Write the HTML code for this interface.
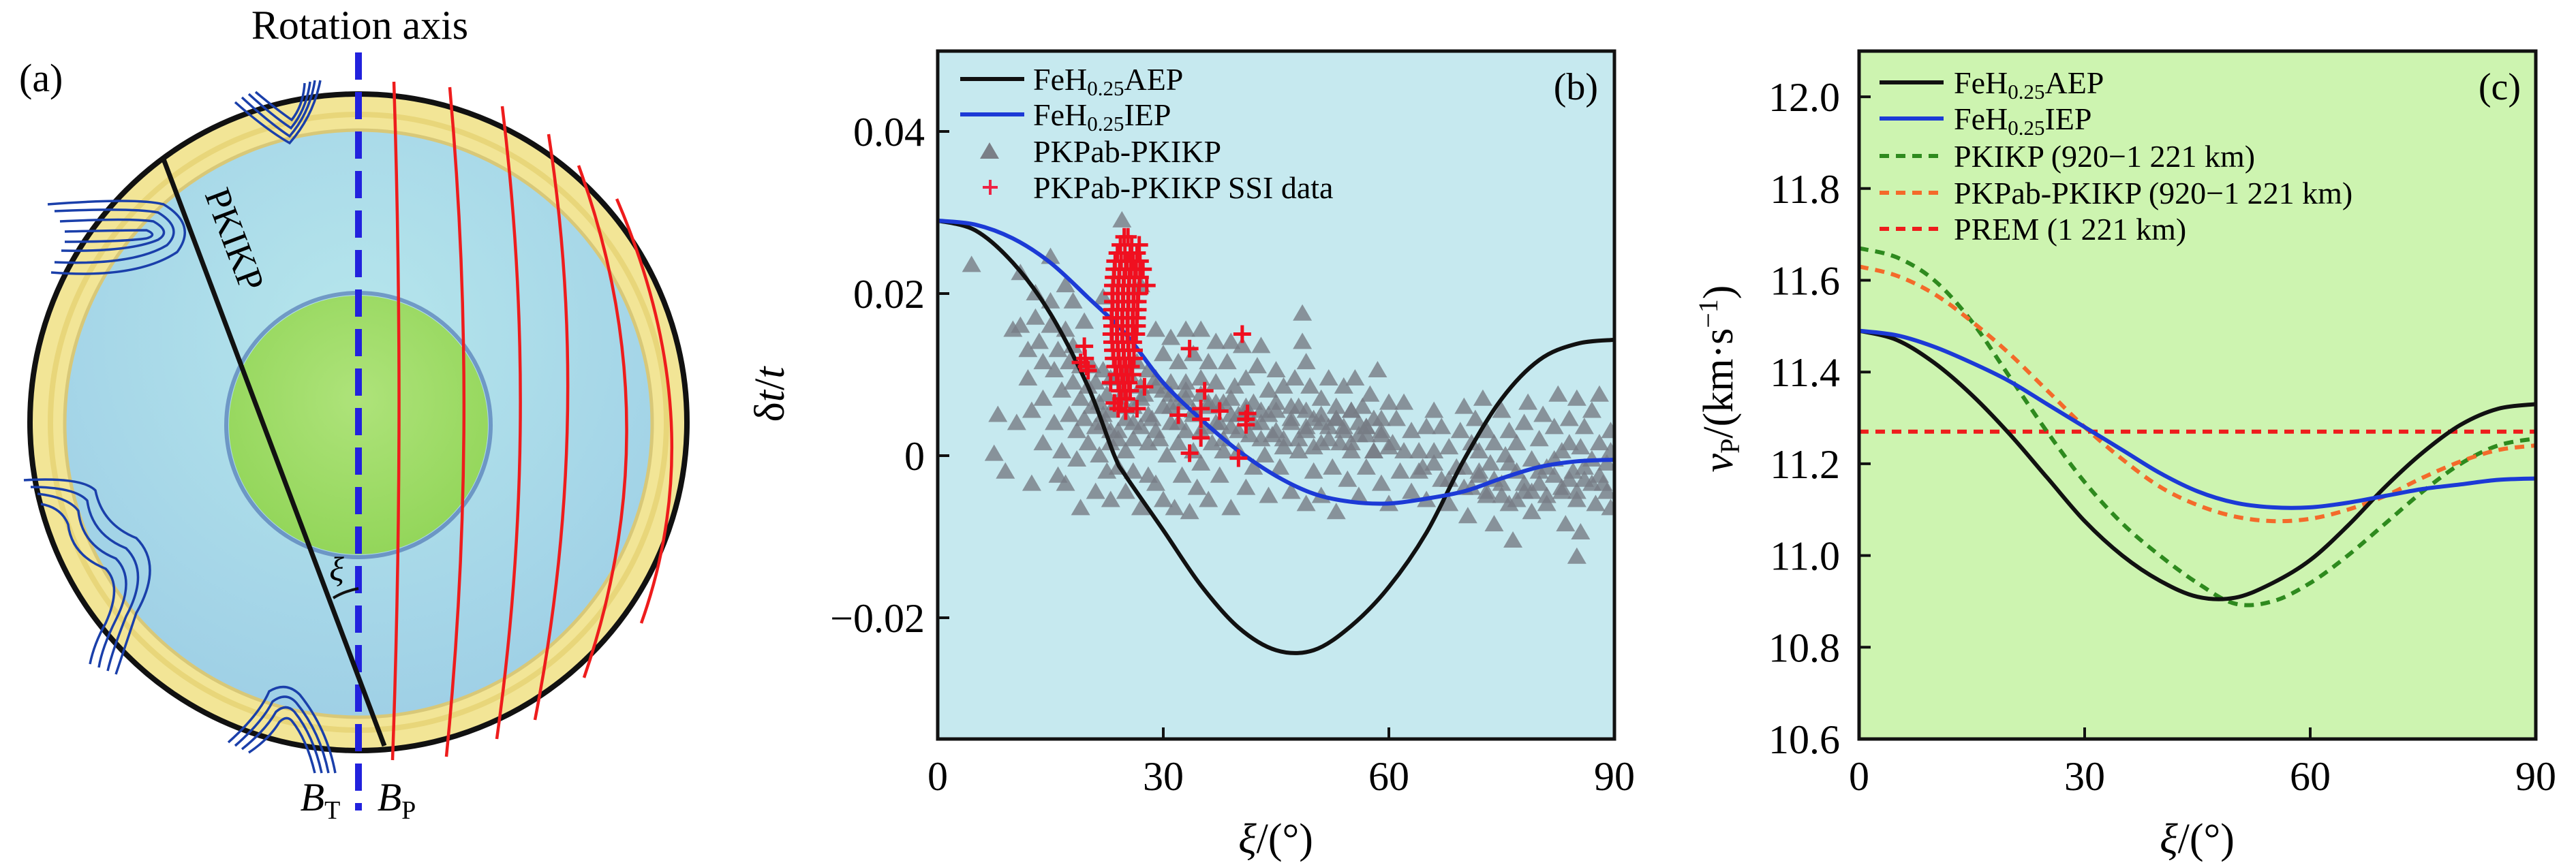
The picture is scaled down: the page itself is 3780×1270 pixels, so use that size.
<!DOCTYPE html>
<html><head><meta charset="utf-8"><style>
html,body{margin:0;padding:0;background:#fff;}
svg{display:block;}
svg text{font-family:"Liberation Serif","DejaVu Serif",serif;}
</style></head><body>
<svg id="fig" width="3780" height="1270" viewBox="0 0 3780 1270" xmlns="http://www.w3.org/2000/svg" font-family="Liberation Serif, DejaVu Serif, serif">
<defs>
<radialGradient id="blueg" cx="50%" cy="35%" r="65%"><stop offset="0" stop-color="#b6e6ec"/><stop offset="1" stop-color="#9fd0e6"/></radialGradient>
<radialGradient id="greeng" cx="50%" cy="40%" r="60%"><stop offset="0" stop-color="#aee37a"/><stop offset="1" stop-color="#93d65a"/></radialGradient>
<clipPath id="clipb"><rect x="1376" y="75" width="993" height="1010"/></clipPath>
<clipPath id="clipc"><rect x="2728" y="75" width="993" height="1010"/></clipPath>
</defs>

<!-- Panel a -->
<g>
<text x="528" y="57" font-size="60" text-anchor="middle">Rotation axis</text>
<text x="28" y="134" font-size="58">(a)</text>
<circle cx="526" cy="620" r="482" fill="#f2e596" stroke="#111" stroke-width="8"/>
<circle cx="526" cy="620" r="452" fill="none" stroke="#e8d67a" stroke-width="8"/>
<circle cx="526" cy="622" r="431" fill="url(#blueg)" stroke="#d8c878" stroke-width="5"/>
<circle cx="526" cy="624" r="194" fill="none" stroke="#3b5fa8" stroke-width="6" opacity="0.55"/>
<circle cx="526" cy="624" r="190" fill="url(#greeng)"/>
<g fill="none" stroke="#ee1c1c" stroke-width="4.5">
<path d="M578 120 Q594 620 576 1116"/>
<path d="M660 128 Q704 620 655 1111"/>
<path d="M737 156 Q794 620 729 1085"/>
<path d="M805 197 Q870 620 785 1057"/>
<path d="M849 243 Q986 620 857 995"/>
<path d="M905 292 Q1046 620 941 915"/>
</g>
<g fill="none" stroke="#1a3faa" stroke-width="3.5">
<path d="M345 150 Q390 190 425 210 Q460 170 470 118"/>
<path d="M355 143 Q395 180 425 200 Q455 165 462 118"/>
<path d="M365 138 Q400 170 427 188 Q450 160 455 120"/>
<path d="M375 135 Q405 160 428 176 Q445 155 447 122"/>
<path d="M70 300 Q200 290 240 300 Q290 330 260 370 Q200 410 75 400"/>
<path d="M80 310 Q195 305 232 312 Q270 335 245 360 Q195 390 80 385"/>
<path d="M88 325 Q190 320 225 325 Q252 340 232 352 Q190 370 90 368"/>
<path d="M95 340 Q180 338 215 338 Q232 345 215 350 Q180 355 95 355"/>
<path d="M35 705 Q120 700 140 720 Q150 770 200 790 Q240 830 200 900 Q180 960 170 990"/>
<path d="M45 715 Q110 715 128 735 Q135 785 185 805 Q220 840 185 905 Q165 955 158 985"/>
<path d="M55 725 Q100 730 115 750 Q120 800 170 820 Q200 850 170 910 Q150 950 145 980"/>
<path d="M60 740 Q90 745 100 770 Q105 815 155 835 Q180 860 155 915 Q138 945 132 975"/>
<path d="M335 1090 Q380 1050 395 1015 Q420 1000 440 1020 Q480 1070 492 1135"/>
<path d="M345 1095 Q385 1060 400 1030 Q420 1015 435 1032 Q470 1075 482 1135"/>
<path d="M355 1100 Q390 1072 405 1045 Q420 1032 432 1045 Q460 1080 472 1135"/>
<path d="M365 1105 Q395 1085 410 1060 Q420 1050 428 1058 Q450 1085 462 1135"/>
</g>
<line x1="526" y1="77" x2="526" y2="1190" stroke="#2222dd" stroke-width="10" stroke-dasharray="40 18"/>
<line x1="239" y1="231" x2="564" y2="1095" stroke="#111" stroke-width="7"/>
<text x="0" y="0" font-size="54" transform="translate(300,285) rotate(69.4)">PKIKP</text>
<path d="M489 878 Q505 868 526 864" fill="none" stroke="#111" stroke-width="4"/>
<text x="494" y="852" font-size="50" font-style="italic" text-anchor="middle">ξ</text>
<text x="470" y="1190" font-size="58" font-style="italic" text-anchor="middle">B<tspan font-size="38" font-style="normal" dy="12">T</tspan></text>
<text x="582" y="1190" font-size="58" font-style="italic" text-anchor="middle">B<tspan font-size="38" font-style="normal" dy="12">P</tspan></text>
</g>

<!-- Panel b -->
<rect x="1376" y="75" width="993" height="1010" fill="#c6e9ef"/>
<g id="bmarks" clip-path="url(#clipb)"></g>
<g id="baxes"></g>
<rect x="1376" y="75" width="993" height="1010" fill="none" stroke="#111" stroke-width="5"/>
<g font-size="46">
<line x1="1409" y1="116" x2="1503" y2="116" stroke="#111" stroke-width="6"/>
<text x="1516" y="132">FeH<tspan font-size="31" dy="8">0.25</tspan><tspan dy="-8">AEP</tspan></text>
<line x1="1409" y1="168" x2="1503" y2="168" stroke="#1c3ad6" stroke-width="6"/>
<text x="1516" y="184">FeH<tspan font-size="31" dy="8">0.25</tspan><tspan dy="-8">IEP</tspan></text>
<polygon points="1452,209 1438,233 1466,233" fill="#7a7f87"/>
<text x="1516" y="238">PKPab-PKIKP</text>
<path d="M1442 275 H1464 M1453 264 V286" stroke="#ee2244" stroke-width="4"/>
<text x="1516" y="291">PKPab-PKIKP SSI data</text>
</g>
<text x="2345" y="146" font-size="56" text-anchor="end">(b)</text>
<text font-size="62" text-anchor="middle" transform="translate(1150,579) rotate(-90)">δ<tspan font-style="italic">t</tspan>/<tspan font-style="italic">t</tspan></text>
<text x="1872" y="1252" font-size="62" text-anchor="middle"><tspan font-style="italic">ξ</tspan>/(°)</text>

<!-- Panel c -->
<rect x="2728" y="75" width="993" height="1010" fill="#cdf4b0"/>
<g id="cmarks" clip-path="url(#clipc)"></g>
<g id="caxes"></g>
<rect x="2728" y="75" width="993" height="1010" fill="none" stroke="#111" stroke-width="5"/>
<g font-size="46">
<line x1="2758" y1="121" x2="2852" y2="121" stroke="#111" stroke-width="6"/>
<text x="2867" y="137">FeH<tspan font-size="31" dy="8">0.25</tspan><tspan dy="-8">AEP</tspan></text>
<line x1="2758" y1="174" x2="2852" y2="174" stroke="#1c3ad6" stroke-width="6"/>
<text x="2867" y="190">FeH<tspan font-size="31" dy="8">0.25</tspan><tspan dy="-8">IEP</tspan></text>
<line x1="2758" y1="229" x2="2852" y2="229" stroke="#2e8a1e" stroke-width="6" stroke-dasharray="14 10"/>
<text x="2867" y="245">PKIKP (920−1 221 km)</text>
<line x1="2758" y1="283" x2="2852" y2="283" stroke="#f46a2a" stroke-width="6" stroke-dasharray="14 10"/>
<text x="2867" y="299">PKPab-PKIKP (920−1 221 km)</text>
<line x1="2758" y1="336" x2="2852" y2="336" stroke="#ee1c1c" stroke-width="6" stroke-dasharray="14 10"/>
<text x="2867" y="352">PREM (1 221 km)</text>
</g>
<text x="3699" y="146" font-size="56" text-anchor="end">(c)</text>
<text font-size="62" text-anchor="middle" transform="translate(2542,556) rotate(-90)"><tspan font-style="italic">v</tspan><tspan font-size="40" dy="10">P</tspan><tspan dy="-10">/(km·s</tspan><tspan font-size="40" dy="-22">−1</tspan><tspan dy="22">)</tspan></text>
<text x="3224" y="1252" font-size="62" text-anchor="middle"><tspan font-style="italic">ξ</tspan>/(°)</text>
</svg>
<script>
// ---- Panel b data ----
const bXTicks = [0, 30, 60, 90];
const bYTicks = [-0.02, 0, 0.02, 0.04];
const bYTickLabels = ["−0.02", "0", "0.02", "0.04"];
const bCurveX = [0,5,10,15,20,23.5,25,30,35,40,45,50,55,60,65,70,75,80,85,90];
const bAEP = [0.029,0.0278,0.0238,0.0175,0.0085,0.0,-0.0025,-0.0092,-0.016,-0.0212,-0.0240,-0.0240,-0.021,-0.0162,-0.0095,-0.0005,0.007,0.0118,0.0138,0.0143];
const bIEPX = [0,5,10,15,20,25,30,35,40,45,50,55,60,65,70,75,80,85,90];
const bIEP = [0.029,0.0285,0.0268,0.0238,0.0195,0.015,0.009,0.0045,0.0006,-0.0025,-0.0047,-0.0057,-0.0059,-0.0053,-0.0044,-0.0028,-0.0014,-0.0007,-0.0005];
const triX = [4.5,7.5,8,9,10,10.5,11,11,12,12,12.5,12.5,13,13,13.5,14,14,14,15,15,15,15.5,15.5,16,16,16.5,16.5,17,17,17,17.5,17.5,18,18,18,18.5,18.5,19,19,19,19.5,19.5,20,20,20.5,20.5,21,21,21,21.5,21.5,22,22,22,22.5,22.5,23,23,23,23.5,24,24,24.5,24.5,25,25,25,25.5,26,26,26,26.5,27,27,27,27.5,28,28,28,28.5,29,29,29,29.5,30,30,30,30.5,31,31,31,31.5,32,32,32,32.5,33,33,33,33.5,34,34,34,34.5,35,35,35,35.5,36,36,36,36.5,37,37,37.5,37.5,38,38,38.5,39,39,39,39.5,40,40,40.5,41,41,41.5,42,42,42.5,43,43,43.5,44,44,44.5,45,45,45.5,46,46,47,47,47.5,48,48,48.5,48.5,49,49,49,49.5,50,50,51,51,51,52,52,52.5,53,53,53.5,54,54,54.5,55,55,55.5,56,56,56.5,57,57,57.5,58,58,58.5,59,59,60,60,60.5,61,61.5,62,62,63,63,64,64.5,65,65,66,66,67,67,68,68,69,69.5,70,70,70.5,71,71.5,72,72,72.5,73,73,73.5,74,74,75,75,75.5,76,76,76.5,77,77,78,78,78.5,79,79,80,80,80.5,81,81,82,82,82.5,83,83,83.5,84,84,84.5,85,85,85,85.5,85.5,86,86,87,87,87.5,88,88,88.5,89,89.5,89.5,89.5,22,23,24,25,26,27,28,29,30,31,32,33,34,35,36,37,38,39,40,41,42,43,44,45,46,47,48,49,50,51,52,53,54,55,56,57,58,59,60,64,66,68,70,72,74,76,78,80,82,84,86,88,23,25,27,29,31,33,35,37,39,41,43,45,47,49,51,53,55,57,59,71,73,75,77,79,81,83,85,87,89];
const triY = [.0235,.0002,.005,-.002,.0155,.004,.0225,.016,.013,.0095,.0055,-.0035,.02,.017,.014,.0115,.007,.0015,.0245,.019,.016,.0105,.004,-.0025,.013,.008,.0005,.021,.0155,-.0035,.0115,.005,.019,.0135,.009,.003,-.0005,-.0065,.007,.011,.0165,.0045,.0085,.0015,.011,.006,-.0045,.0035,.009,.0,.0065,.0195,.0105,.004,-.002,.0075,.0015,.0055,-.0055,.0095,.003,-.0015,.029,.0075,.0005,.0045,-.0045,.01,.006,.002,-.002,.0115,.021,.0035,-.0065,.0075,.0015,.0105,-.0025,.0045,.0155,.0085,-.0035,.002,.006,.0125,-.0055,.0,.0145,.009,.004,-.0065,.0115,.0065,.0015,-.0025,.0155,.008,.003,-.007,.0125,.0055,.0005,-.004,.0155,.0095,-.001,.0035,.0115,.0065,-.0055,.0015,.014,.009,.004,-.0025,.0065,.0005,.0115,.014,.0035,-.0065,.0085,.0005,.005,.0135,-.004,.0095,.0025,.0065,-.0015,.011,.0135,.004,.0,.008,-.005,.0025,.0105,.0055,-.0015,.002,.0085,.0045,-.0045,.0095,.0005,.006,.0175,.014,.0115,.003,-.006,.0085,-.002,.0045,.0015,.007,-.005,.0095,.0035,-.0015,.006,-.007,.0015,.0085,.0035,-.003,.0055,.0005,.0095,.0025,-.005,.006,.0035,-.0015,.0075,.0005,.0045,.0105,-.0035,.0025,.0065,-.006,.0015,.0045,-.002,.0005,.0065,-.0045,.003,.0005,-.0015,.0035,-.0055,.0055,.0005,-.003,.0035,.001,-.006,-.0015,.003,.006,-.004,-.0075,.0015,.0045,-.0025,.0005,.007,-.005,.003,-.001,-.0085,.0015,.0055,-.0035,.0,-.006,.003,-.0105,.0015,-.002,.004,-.0045,.0065,-.0005,-.007,.002,-.0035,.005,-.0015,-.006,.0035,-.0025,.0075,.0005,-.0045,-.0085,.0015,.0045,-.002,.007,-.0055,-.0125,.001,-.0095,.0035,-.003,-.0005,.0055,-.006,.0015,.0075,-.0035,-.001,.0005,-.0065,.003,.005,.003,.002,.006,.004,.007,.005,.003,.008,.006,.004,.007,.005,.003,.006,.004,.002,.005,.003,.006,.004,.002,.005,.003,.001,.004,.002,.0035,.001,.004,.002,.0045,.003,.0015,.004,.0025,.0005,.003,.001,-.002,-.001,-.003,-.0015,-.002,-.003,-.001,-.0035,-.002,-.0005,-.003,-.0015,-.0025,.0095,.0105,.0085,.0095,.0075,.009,.0075,.0065,.007,.0055,.0055,.0065,.006,.0055,.005,.0045,.0055,.0035,.0045,-.004,-.0045,-.005,-.0055,-.0045,-.005,-.004,-.0045,-.0035,-.0045];
const ssiX = [24.8,25.3,24.3,25.8,26.8,23.9,24.9,25.6,26.5,23.6,24.4,25.2,26.0,26.9,23.5,24.2,25.0,25.7,26.4,27.3,23.4,24.1,24.8,25.5,26.2,26.9,23.3,24.0,24.7,25.4,26.1,26.8,27.8,23.2,23.9,24.6,25.3,26.0,26.7,23.3,24.0,24.7,25.4,26.1,26.6,23.2,23.9,24.6,25.3,26.0,26.6,23.1,23.8,24.5,25.2,25.9,26.5,23.2,23.9,24.6,25.3,26.0,26.5,23.1,23.8,24.5,25.2,25.9,26.4,23.2,23.9,24.6,25.3,26.0,23.3,24.0,24.7,25.4,26.1,23.4,24.1,24.8,25.5,26.1,23.6,24.3,25.0,25.7,23.8,24.5,25.2,25.9,24.0,24.7,25.4,24.2,24.9,25.6,24.4,25.1,19.5,19.6,19.8,20,19,23,23.5,24,25,26.5,27.5,32,33.5,33.5,35,35,35,35.5,37.5,40.5,40,41,41,41.2];
const ssiY = [.027,.027,.026,.026,.026,.025,.025,.025,.025,.024,.024,.024,.024,.024,.023,.023,.023,.023,.023,.023,.022,.022,.022,.022,.022,.022,.021,.021,.021,.021,.021,.021,.021,.020,.020,.020,.020,.020,.020,.019,.019,.019,.019,.019,.019,.018,.018,.018,.018,.018,.018,.017,.017,.017,.017,.017,.017,.016,.016,.016,.016,.016,.016,.015,.015,.015,.015,.015,.015,.014,.014,.014,.014,.014,.013,.013,.013,.013,.013,.012,.012,.012,.012,.012,.011,.011,.011,.011,.010,.010,.010,.010,.009,.009,.009,.008,.008,.008,.007,.007,.0135,.012,.011,.0105,.0115,.009,.0065,.0058,.0055,.0058,.0085,.005,.0132,.0003,.0058,.0045,.0022,.008,.0055,.015,-.0003,.0045,.0038,.0052];

// ---- Panel c data ----
const cXTicks = [0, 30, 60, 90];
const cYTicks = [10.6,10.8,11.0,11.2,11.4,11.6,11.8,12.0];
const cYTickLabels = ["10.6","10.8","11.0","11.2","11.4","11.6","11.8","12.0"];
const cX = [0,5,10,15,20,25,30,35,40,45,50,55,60,65,70,75,80,85,90];
const cAEP = [11.49,11.47,11.42,11.35,11.265,11.17,11.075,11.0,10.945,10.91,10.908,10.94,10.99,11.065,11.15,11.225,11.285,11.32,11.33];
const cIEP = [11.49,11.48,11.455,11.42,11.38,11.33,11.28,11.23,11.18,11.14,11.115,11.105,11.105,11.115,11.13,11.145,11.155,11.165,11.168];
const cPKIKP = [11.67,11.65,11.6,11.51,11.39,11.27,11.16,11.07,11.0,10.94,10.895,10.9,10.94,11.0,11.07,11.14,11.2,11.24,11.255];
const cPKPab = [11.63,11.61,11.57,11.51,11.44,11.36,11.28,11.21,11.15,11.11,11.085,11.075,11.08,11.1,11.13,11.17,11.205,11.23,11.24];
const cPREM = [11.27,11.27,11.27,11.27,11.27,11.27,11.27,11.27,11.27,11.27,11.27,11.27,11.27,11.27,11.27,11.27,11.27,11.27,11.27];

const NS = "http://www.w3.org/2000/svg";
function mk(tag, attrs, parent) {
  const e = document.createElementNS(NS, tag);
  for (const k in attrs) e.setAttribute(k, attrs[k]);
  parent.appendChild(e);
  return e;
}
const bx = x => 1376 + x / 90 * 993;
const by = y => 669 - y / 0.02 * 238;
const cx = x => 2728 + x / 90 * 993;
const cy = v => 1085 - (v - 10.6) / 0.2 * 134.7;

function smoothPath(xs, ys, fx, fy) {
  const p = xs.map((x, i) => [fx(x), fy(ys[i])]);
  let d = "M" + p[0][0].toFixed(1) + " " + p[0][1].toFixed(1);
  for (let i = 0; i < p.length - 1; i++) {
    const p0 = p[Math.max(0, i - 1)], p1 = p[i], p2 = p[i + 1], p3 = p[Math.min(p.length - 1, i + 2)];
    const c1 = [p1[0] + (p2[0] - p0[0]) / 6, p1[1] + (p2[1] - p0[1]) / 6];
    const c2 = [p2[0] - (p3[0] - p1[0]) / 6, p2[1] - (p3[1] - p1[1]) / 6];
    d += " C" + c1[0].toFixed(1) + " " + c1[1].toFixed(1) + " " + c2[0].toFixed(1) + " " + c2[1].toFixed(1) + " " + p2[0].toFixed(1) + " " + p2[1].toFixed(1);
  }
  return d;
}

// Panel b marks
const bm = document.getElementById("bmarks");
for (let i = 0; i < triX.length; i++) {
  const x = bx(triX[i]), y = by(triY[i]);
  const t = mk("polygon", {points: x + "," + (y - 14) + " " + (x - 14) + "," + (y + 10) + " " + (x + 14) + "," + (y + 10), fill: "#777c84", "fill-opacity": "0.8"}, bm);
  
  
}
const aepB = mk("path", {d: smoothPath(bCurveX, bAEP, bx, by), fill: "none", stroke: "#111", "stroke-width": 6}, bm);


const iepB = mk("path", {d: smoothPath(bIEPX, bIEP, bx, by), fill: "none", stroke: "#1c3ad6", "stroke-width": 6}, bm);


for (let i = 0; i < ssiX.length; i++) {
  const x = bx(ssiX[i]), y = by(ssiY[i]);
  const p = mk("path", {d: "M" + (x - 13) + " " + y + " H" + (x + 13) + " M" + x + " " + (y - 13) + " V" + (y + 13), stroke: "#f01020", "stroke-width": 5}, bm);
  
  
}
const ba = document.getElementById("baxes");
bXTicks.forEach(v => {
  const l = mk("line", {x1: bx(v), x2: bx(v), y1: 1085, y2: 1068, stroke: "#111", "stroke-width": 4}, ba);
  
  
  const t = mk("text", {x: bx(v), y: 1160, "font-size": 60, "text-anchor": "middle"}, ba);
  t.textContent = v;
  
  
});
bYTicks.forEach((v, i) => {
  const l = mk("line", {x1: 1376, x2: 1393, y1: by(v), y2: by(v), stroke: "#111", "stroke-width": 4}, ba);
  
  
  const t = mk("text", {x: 1357, y: by(v) + 21, "font-size": 60, "text-anchor": "end"}, ba);
  t.textContent = bYTickLabels[i];
  
  
});

// Panel c marks
const cm = document.getElementById("cmarks");
const cSeries = [
  [cPREM, "#ee1c1c", "14 10", "prem-line"],
  [cPKIKP, "#2e8a1e", "14 10", "pkikp-curve"],
  [cPKPab, "#f46a2a", "14 10", "pkpab-pkikp-curve"],
  [cAEP, "#111", "", "feh-aep-curve"],
  [cIEP, "#1c3ad6", "", "feh-iep-curve"]
];
cSeries.forEach(s => {
  const attrs = {d: smoothPath(cX, s[0], cx, cy), fill: "none", stroke: s[1], "stroke-width": 6};
  if (s[2]) attrs["stroke-dasharray"] = s[2];
  const p = mk("path", attrs, cm);
  
  
});
const ca = document.getElementById("caxes");
cXTicks.forEach(v => {
  const l = mk("line", {x1: cx(v), x2: cx(v), y1: 1085, y2: 1068, stroke: "#111", "stroke-width": 4}, ca);
  
  
  const t = mk("text", {x: cx(v), y: 1160, "font-size": 60, "text-anchor": "middle"}, ca);
  t.textContent = v;
  
  
});
cYTicks.forEach((v, i) => {
  const l = mk("line", {x1: 2728, x2: 2745, y1: cy(v), y2: cy(v), stroke: "#111", "stroke-width": 4}, ca);
  
  
  const t = mk("text", {x: 2700, y: cy(v) + 21, "font-size": 60, "text-anchor": "end"}, ca);
  t.textContent = cYTickLabels[i];
  
  
});
</script>
</body></html>
